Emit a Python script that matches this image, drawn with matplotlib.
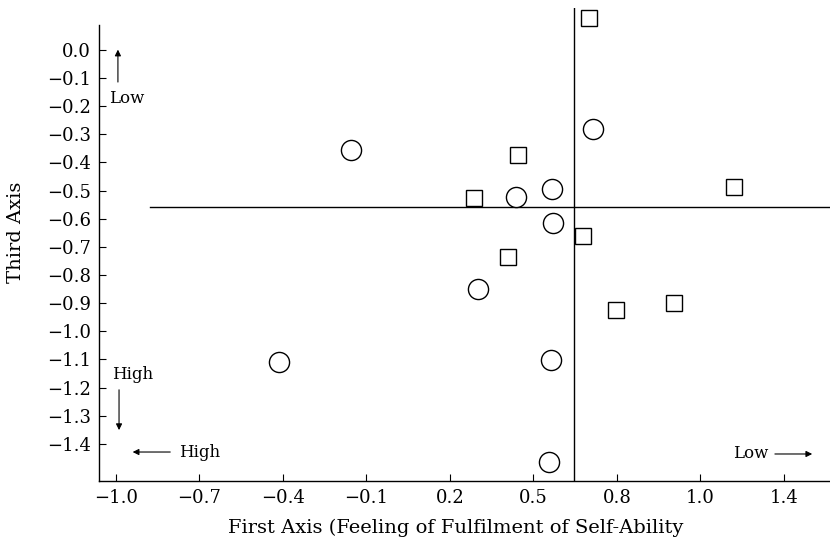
import matplotlib
matplotlib.use("Agg")
import matplotlib.pyplot as plt

plt.rcParams["font.family"] = ["DejaVu Serif"]

# Tick values on the axes (the original prints "1.0" where 1.1 would sit)
x_ticks = [-1.0, -0.7, -0.4, -0.1, 0.2, 0.5, 0.8, 1.1, 1.4]
x_tick_labels = ["\u22121.0", "\u22120.7", "\u22120.4", "\u22120.1",
                 "0.2", "0.5", "0.8", "1.0", "1.4"]
y_ticks = [0.0, -0.1, -0.2, -0.3, -0.4, -0.5, -0.6, -0.7,
           -0.8, -0.9, -1.0, -1.1, -1.2, -1.3, -1.4]
y_tick_labels = ["0.0"] + ["\u2212%.1f" % abs(v) for v in y_ticks[1:]]

# Points
square_x = [0.701, 0.446, 0.287, 1.222, 0.677, 0.409, 0.796, 1.005]
square_y = [0.115, -0.373, -0.528, -0.486, -0.661, -0.737, -0.926, -0.898]
circle_x = [0.716, 0.568, 0.438, 0.570, 0.300, 0.563, 0.557, -0.415, -0.156]
circle_y = [-0.281, -0.493, -0.523, -0.614, -0.850, -1.102, -1.464, -1.108, -0.355]

# Reference (centre) lines
center_x = 0.647
center_y = -0.558

fig = plt.figure(figsize=(8.3, 5.44), dpi=100)
ax = fig.add_axes([99 / 830, 1 - 481 / 544, 731 / 830, 473 / 544])

x_min, x_max = -1.061, 1.566
y_min, y_max = -1.532, 0.149
ax.set_xlim(x_min, x_max)
ax.set_ylim(y_min, y_max)

ax.plot(square_x, square_y, linestyle="none", marker="s", ms=12,
        mfc="white", mec="black", mew=1.0, zorder=3)
ax.plot(circle_x, circle_y, linestyle="none", marker="o", ms=14.5,
        mfc="white", mec="black", mew=1.0, zorder=3)

ax.plot([center_x, center_x], [y_min, y_max], color="black", lw=1.0, zorder=2)
ax.plot([-0.878, x_max], [center_y, center_y], color="black", lw=1.0, zorder=2)

ax.spines["top"].set_visible(False)
ax.spines["right"].set_visible(False)
ax.spines["left"].set_bounds(y_min, 0.089)
for s in ("left", "bottom"):
    ax.spines[s].set_linewidth(1.0)

ax.set_xticks(x_ticks)
ax.set_xticklabels(x_tick_labels)
ax.set_yticks(y_ticks)
ax.set_yticklabels(y_tick_labels)
ax.tick_params(direction="in", length=5, width=0.8, labelsize=13)
ax.tick_params(axis="x", pad=6)
ax.tick_params(axis="y", pad=6)

ax.set_xlabel("First Axis (Feeling of Fulfilment of Self-Ability", fontsize=14)
ax.xaxis.set_label_coords(0.488, -0.080)
ax.set_ylabel("Third Axis", fontsize=14)
ax.yaxis.set_label_coords(-0.101, 0.525)

arrow = dict(arrowstyle="-|>", lw=0.8, color="black", mutation_scale=9)

# upper-left: Low
ax.annotate("", xy=(-0.993, 0.011), xytext=(-0.993, -0.124), arrowprops=arrow)
ax.text(-1.025, -0.171, "Low", fontsize=12, ha="left", va="center")
# lower-left: High (down)
ax.text(-1.013, -1.155, "High", fontsize=12, ha="left", va="center")
ax.annotate("", xy=(-0.989, -1.361), xytext=(-0.989, -1.198), arrowprops=arrow)
# lower-left: High (left)
ax.annotate("", xy=(-0.950, -1.429), xytext=(-0.795, -1.429), arrowprops=arrow)
ax.text(-0.772, -1.429, "High", fontsize=12, ha="left", va="center")
# lower-right: Low ->
ax.text(1.217, -1.436, "Low", fontsize=12, ha="left", va="center")
ax.annotate("", xy=(1.512, -1.436), xytext=(1.358, -1.436), arrowprops=arrow)

fig.savefig("out.png", dpi=100)
